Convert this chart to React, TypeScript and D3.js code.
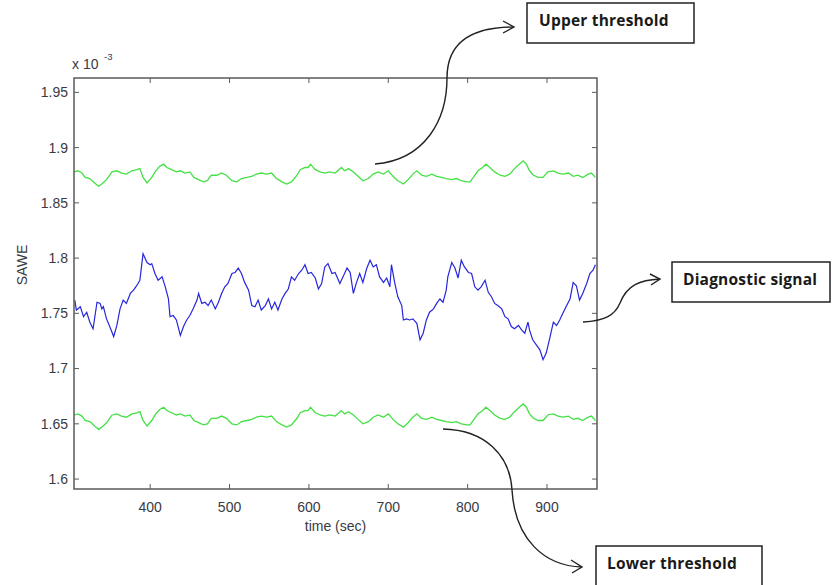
import React from 'react';
import * as d3 from 'd3';

// diagnostic signal (SAWE, x 10^-3) vs time (sec)
const signalTime = [
  305, 307, 312, 316, 320, 324, 328, 333, 337, 339, 341, 345, 349, 354, 358, 362, 366, 370, 375, 379,
  383, 387, 391, 396, 400, 402, 406, 410, 415, 419, 423, 425, 429, 433, 438, 442, 446, 450, 454, 459,
  461, 465, 469, 473, 477, 482, 486, 490, 494, 498, 503, 507, 511, 515, 519, 524, 528, 532, 536, 540,
  545, 549, 553, 557, 561, 566, 570, 574, 578, 582, 587, 591, 595, 599, 603, 608, 612, 616, 620, 624,
  629, 633, 639, 643, 648, 652, 656, 660, 664, 668, 673, 677, 681, 685, 689, 694, 698, 702, 704, 708,
  712, 717, 719, 723, 727, 731, 736, 740, 744, 748, 752, 757, 761, 765, 769, 773, 775, 780, 784, 788,
  792, 796, 801, 805, 809, 813, 817, 822, 826, 830, 834, 838, 843, 847, 851, 855, 859, 864, 868, 872,
  876, 878, 882, 887, 891, 895, 899, 903, 908, 912, 916, 920, 924, 929, 933, 937, 941, 945, 950, 954,
  958, 961,
];
const signalValue = [
  1.762, 1.753, 1.756, 1.747, 1.751, 1.742, 1.736, 1.760, 1.759, 1.754, 1.756, 1.745, 1.738, 1.729, 1.739, 1.754, 1.762, 1.759, 1.768, 1.771,
  1.775, 1.780, 1.804, 1.796, 1.794, 1.795, 1.786, 1.780, 1.783, 1.774, 1.763, 1.747, 1.748, 1.744, 1.730, 1.738, 1.744, 1.748, 1.754, 1.762,
  1.768, 1.759, 1.760, 1.757, 1.762, 1.754, 1.760, 1.768, 1.774, 1.777, 1.786, 1.787, 1.791, 1.786, 1.778, 1.771, 1.757, 1.756, 1.762, 1.753,
  1.757, 1.763, 1.754, 1.760, 1.753, 1.763, 1.768, 1.772, 1.783, 1.780, 1.786, 1.789, 1.794, 1.786, 1.787, 1.782, 1.772, 1.777, 1.792, 1.795,
  1.786, 1.787, 1.777, 1.783, 1.791, 1.787, 1.768, 1.778, 1.786, 1.778, 1.791, 1.798, 1.792, 1.794, 1.783, 1.778, 1.782, 1.774, 1.794, 1.778,
  1.765, 1.757, 1.744, 1.745, 1.744, 1.745, 1.741, 1.726, 1.732, 1.744, 1.751, 1.754, 1.759, 1.763, 1.760, 1.771, 1.783, 1.796, 1.791, 1.782,
  1.798, 1.792, 1.787, 1.786, 1.774, 1.771, 1.774, 1.780, 1.769, 1.765, 1.759, 1.757, 1.754, 1.747, 1.745, 1.738, 1.736, 1.739, 1.735, 1.732,
  1.742, 1.735, 1.726, 1.721, 1.717, 1.708, 1.714, 1.726, 1.742, 1.739, 1.744, 1.750, 1.756, 1.763, 1.778, 1.775, 1.762, 1.768, 1.777, 1.786,
  1.789, 1.794,
];

// thresholds share one time base
const thresholdTime = [
  304, 309, 314, 318, 324, 330, 335, 339, 345, 352, 358, 364, 370, 377, 383, 387, 391, 396, 402, 407,
  412, 417, 421, 427, 433, 438, 444, 450, 455, 461, 467, 472, 477, 484, 490, 496, 503, 509, 515, 522,
  528, 534, 540, 547, 553, 559, 566, 572, 578, 585, 589, 595, 599, 602, 608, 614, 620, 626, 633, 641,
  645, 650, 656, 662, 668, 675, 681, 687, 694, 700, 706, 712, 719, 725, 731, 736, 742, 748, 755, 761,
  767, 773, 780, 786, 792, 799, 803, 808, 813, 819, 823, 828, 834, 841, 847, 853, 859, 865, 870, 874,
  878, 883, 889, 895, 901, 908, 914, 920, 927, 933, 939, 945, 952, 956, 961,
];
const upperValue = [
  1.878, 1.879, 1.877, 1.873, 1.872, 1.868, 1.865, 1.867, 1.871, 1.878, 1.879, 1.877, 1.876, 1.879, 1.880, 1.881, 1.873, 1.868, 1.873, 1.879,
  1.883, 1.885, 1.882, 1.880, 1.878, 1.879, 1.877, 1.878, 1.873, 1.871, 1.869, 1.870, 1.875, 1.875, 1.877, 1.875, 1.870, 1.869, 1.872, 1.873,
  1.874, 1.876, 1.877, 1.876, 1.877, 1.872, 1.869, 1.867, 1.869, 1.875, 1.880, 1.882, 1.882, 1.885, 1.880, 1.878, 1.877, 1.878, 1.877, 1.882,
  1.879, 1.881, 1.878, 1.874, 1.870, 1.872, 1.876, 1.878, 1.876, 1.879, 1.874, 1.870, 1.867, 1.871, 1.876, 1.879, 1.875, 1.874, 1.876, 1.874,
  1.873, 1.872, 1.871, 1.872, 1.870, 1.869, 1.869, 1.874, 1.879, 1.882, 1.885, 1.882, 1.878, 1.875, 1.874, 1.876, 1.881, 1.885, 1.888, 1.885,
  1.879, 1.875, 1.873, 1.873, 1.878, 1.879, 1.877, 1.876, 1.877, 1.874, 1.875, 1.873, 1.876, 1.877, 1.873,
];
const lowerValue = [
  1.658, 1.659, 1.657, 1.653, 1.652, 1.648, 1.645, 1.647, 1.651, 1.658, 1.659, 1.657, 1.656, 1.659, 1.660, 1.661, 1.653, 1.648, 1.653, 1.659,
  1.663, 1.665, 1.662, 1.660, 1.658, 1.659, 1.657, 1.658, 1.653, 1.651, 1.649, 1.650, 1.655, 1.655, 1.657, 1.655, 1.650, 1.649, 1.652, 1.653,
  1.654, 1.656, 1.657, 1.656, 1.657, 1.652, 1.649, 1.647, 1.649, 1.655, 1.660, 1.662, 1.662, 1.665, 1.660, 1.658, 1.657, 1.658, 1.657, 1.662,
  1.659, 1.661, 1.658, 1.654, 1.650, 1.652, 1.656, 1.658, 1.656, 1.659, 1.654, 1.650, 1.647, 1.651, 1.656, 1.659, 1.655, 1.654, 1.656, 1.654,
  1.653, 1.652, 1.651, 1.652, 1.650, 1.649, 1.649, 1.654, 1.659, 1.662, 1.665, 1.662, 1.658, 1.655, 1.654, 1.656, 1.661, 1.665, 1.668, 1.665,
  1.659, 1.655, 1.653, 1.653, 1.658, 1.659, 1.657, 1.656, 1.657, 1.654, 1.655, 1.653, 1.656, 1.657, 1.653,
];

const xTicks = [400, 500, 600, 700, 800, 900];
const yTicks = [1.6, 1.65, 1.7, 1.75, 1.8, 1.85, 1.9, 1.95];
const yTickLabels = ['1.6', '1.65', '1.7', '1.75', '1.8', '1.85', '1.9', '1.95'];

const notes = ['Upper threshold', 'Diagnostic signal', 'Lower threshold'];

const W = 835, H = 585;
const left = 74, right = 597, top = 78, bottom = 489;
const tickFont = 'Arial, "Liberation Sans", sans-serif';
const noteFont = '"Open Sans", "Noto Sans", sans-serif';

export default function App() {
  const x = d3.scaleLinear().domain([304, 963]).range([left, right]);
  const y = d3.scaleLinear().domain([1.591, 1.963]).range([bottom, top]);

  const line = d3.line<[number, number]>().x(d => x(d[0])).y(d => y(d[1]));
  const sig = line(signalTime.map((t, i) => [t, signalValue[i]]));
  const up = line(thresholdTime.map((t, i) => [t, upperValue[i]]));
  const lo = line(thresholdTime.map((t, i) => [t, lowerValue[i]]));

  const axisCol = '#5a5a5a';
  const txtCol = '#3a3a44';
  const tl = 5;

  return (
    <svg width={W} height={H} style={{ position: 'absolute', left: 0, top: 0, background: '#fff' }}>
      <defs>
        <clipPath id="plot">
          <rect x={left} y={top} width={right - left} height={bottom - top} />
        </clipPath>
      </defs>

      <g clipPath="url(#plot)" fill="none">
        <path d={up || ''} stroke="#44e044" strokeWidth={1.3} />
        <path d={lo || ''} stroke="#44e044" strokeWidth={1.3} />
        <path d={sig || ''} stroke="#2626dc" strokeWidth={1.2} />
      </g>

      {/* frame + inward ticks, matlab style */}
      <rect x={left} y={top} width={right - left} height={bottom - top} fill="none" stroke={axisCol} strokeWidth={1.5} />
      {xTicks.map(t => (
        <g key={'x' + t}>
          <line x1={x(t)} x2={x(t)} y1={bottom} y2={bottom - tl} stroke={axisCol} />
          <line x1={x(t)} x2={x(t)} y1={top} y2={top + tl} stroke={axisCol} />
          <text x={x(t)} y={512} textAnchor="middle" fontFamily={tickFont} fontSize={14} fill={txtCol}>{t}</text>
        </g>
      ))}
      {yTicks.map((v, i) => (
        <g key={'y' + v}>
          <line x1={left} x2={left + tl} y1={y(v)} y2={y(v)} stroke={axisCol} />
          <line x1={right} x2={right - tl} y1={y(v)} y2={y(v)} stroke={axisCol} />
          <text x={68} y={y(v)} dy="0.35em" textAnchor="end" fontFamily={tickFont} fontSize={14} fill={txtCol}>{yTickLabels[i]}</text>
        </g>
      ))}

      <text x={72} y={69} fontFamily={tickFont} fontSize={14} fill={txtCol}>x 10</text>
      <text x={104} y={60} fontFamily={tickFont} fontSize={9.5} fill={txtCol}>-3</text>
      <text transform="translate(27,265) rotate(-90)" textAnchor="middle" fontFamily={tickFont} fontSize={14} fill={txtCol}>SAWE</text>
      <text x={(left + right) / 2} y={531} textAnchor="middle" fontFamily={tickFont} fontSize={14} fill={txtCol}>time (sec)</text>

      {/* annotations */}
      <g fill="none" stroke="#222" strokeWidth={1.4}>
        <path d="M375,164 C425,160 447,120 447,78 C447,40 475,27 514,27" />
        <path d="M503,21 L514,27 L503,33" />
        <path d="M583,322 C605,321 615,315 620,303 C627,285 640,280 660,279" />
        <path d="M650,274 L660,279 L651,285" />
        <path d="M443,429 C485,430 510,455 512,490 C515,540 545,566 582,567" />
        <path d="M571,560 L582,567 L572,573" />
      </g>
      <g fill="#fff" stroke="#222" strokeWidth={1.5}>
        <rect x={527} y={3} width={167} height={40} />
        <rect x={672} y={262} width={158} height={40} />
        <rect x={596} y={546} width={166} height={45} />
      </g>
      <g fontFamily={noteFont} fontWeight="bold" fontSize={15.5} fill="#1a1a1a" letterSpacing={0.2}>
        <text x={539} y={26}>{notes[0]}</text>
        <text x={683} y={285}>{notes[1]}</text>
        <text x={607} y={569}>{notes[2]}</text>
      </g>
    </svg>
  );
}
